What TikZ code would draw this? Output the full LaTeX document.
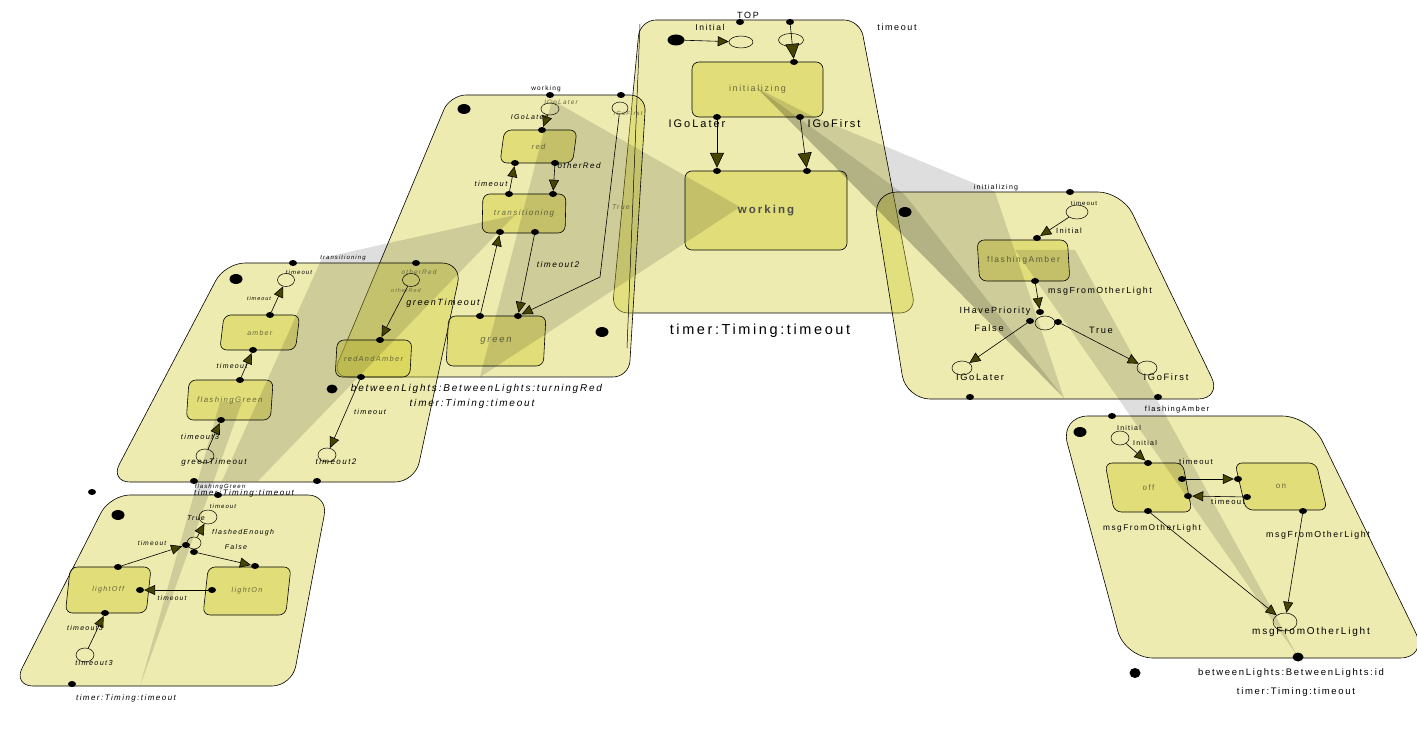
\documentclass[tikz,border=0pt]{standalone}
\usepackage{fontspec}
\setmainfont{Liberation Sans}[LetterSpace=18]
\usetikzlibrary{arrows.meta,shapes.geometric}
\definecolor{panelc}{RGB}{210,205,55}
\definecolor{arrowc}{RGB}{70,70,0}
\definecolor{statec}{RGB}{105,105,60}
\tikzset{
  panel/.style={fill=panelc,fill opacity=.4,draw=black,line width=.6pt,rounded corners=16pt},
  wedge/.style={fill=black,fill opacity=.13},
  stbox/.style={draw,line width=.6pt,fill=panelc,fill opacity=.45,text opacity=1,text=statec,rounded corners=7pt,inner sep=0pt},
  lean/.style 2 args={stbox,shape=trapezium,trapezium stretches=true,trapezium left angle=#1,trapezium right angle=#2},
  port/.style={ellipse,fill=black,inner sep=0pt,minimum width=8pt,minimum height=6pt},
  bigdot/.style={ellipse,fill=black,inner sep=0pt,minimum width=13pt,minimum height=10pt},
  ps/.style={ellipse,draw,line width=.5pt,inner sep=0pt,minimum width=18pt,minimum height=13pt},
  arr/.style={line width=.6pt,-{Triangle[length=11pt,width=10pt,fill=arrowc]}},
  bigarr/.style={line width=.6pt,-{Triangle[length=15pt,width=14pt,fill=arrowc]}},
  ft/.style={inner sep=0pt,font=\fontsize{#1}{#1}\selectfont},
  fti/.style={inner sep=0pt,font=\fontsize{#1}{#1}\selectfont\itshape}
}
\begin{document}
\begin{tikzpicture}[x=1pt,y=-1pt]
\useasboundingbox (0,0) rectangle (1417,743);
\path[panel] (640,20) -- (860,20) -- (916,313) -- (612,313) -- cycle;
\path[panel] (450,95) -- (646,95) -- (629,377) -- (332,377) -- cycle;
\path[panel,rounded corners=20pt] (225,263) -- (462,263) -- (415,482) -- (110,482) -- cycle;
\path[panel,rounded corners=20pt] (110,495) -- (328,495) -- (292,686) -- (13,686) -- cycle;
\path[panel,rounded corners=24pt] (873,192) -- (1122,192) -- (1222,399) -- (906,399) -- cycle;
\path[panel,rounded corners=28pt] (1060,416) -- (1310,416) -- (1428,658) -- (1125,658) -- cycle;
\draw[line width=.5pt] (640,24) -- (627,348);

\node[stbox,ft=9,minimum width=131pt,minimum height=55pt] (initializing) at (757.5,89.5) {initializing};
\node[stbox,font=\fontsize{11.5}{12}\selectfont\bfseries,text=black!70,minimum width=162pt,minimum height=79pt] (working) at (766,210.5) {working};
\node[lean={81}{99},fti=7.5,minimum width=77pt,minimum height=33pt] (red) at (538.5,146.5) {red};
\node[lean={85}{95},fti=8,minimum width=84pt,minimum height=39pt] (transitioning) at (524,213.5) {transitioning};
\node[lean={83}{97},fti=9.5,minimum width=100pt,minimum height=50pt] (green) at (496,341) {green};
\node[lean={74}{106},fti=7,minimum width=80pt,minimum height=35pt] (amber) at (259.75,332.5) {amber};
\node[lean={73}{107},fti=7.8,minimum width=87pt,minimum height=40pt] (flashingGreen) at (229.75,400) {flashingGreen};
\node[lean={73}{107},fti=7.4,minimum width=77pt,minimum height=37pt] (redAndAmber) at (373.5,358.5) {redAndAmber};
\node[lean={73}{107},fti=7.2,minimum width=86pt,minimum height=46pt] (lightOff) at (108.25,590) {lightOff};
\node[lean={73}{107},fti=7.2,minimum width=88pt,minimum height=48pt] (lightOn) at (247,591) {lightOn};
\node[lean={104}{76},ft=8.5,minimum width=93pt,minimum height=41pt] (flashingAmber) at (1023.5,260.5) {flashingAmber};
\node[lean={105}{75},ft=8,minimum width=87pt,minimum height=49pt] (off) at (1148.5,487.5) {off};
\node[lean={110}{70},ft=8,minimum width=92pt,minimum height=47pt] (on) at (1281,486.5) {on};

\fill[wedge] (740,207) -- (552,100) -- (480,377) -- cycle;
\fill[wedge] (515,215) -- (322,258) -- (222,481) -- (258,481) -- cycle;
\fill[wedge] (757,88) -- (810,115) -- (995,192) -- (1064,398) -- cycle;
\fill[wedge] (757,88) -- (905,195) -- (1064,398) -- cycle;
\fill[wedge] (1015,250) -- (1075,250) -- (1298,657) -- cycle;
\fill[wedge] (220,402) -- (242,402) -- (140,686) -- cycle;

\node[port] (tp1) at (740,22) {};
\node[port] (tp2) at (790,22) {};
\node[bigdot,minimum width=17pt,minimum height=11pt] (tpi) at (676,40) {};
\node[ps,minimum width=24pt,minimum height=12pt] (tpc1) at (741,42) {};
\node[ps,minimum width=25pt,minimum height=13pt] (tpc2) at (791,40) {};
\node[port] (int) at (794,62) {};
\node[port] (inb1) at (717,117) {};
\node[port] (inb2) at (800,117) {};
\node[port] (wkt1) at (717,171) {};
\node[port] (wkt2) at (807,171) {};
\draw[arr] (tpi) -- (tpc1);
\draw[bigarr] (tp2) -- (int);
\draw[bigarr] (inb1) -- (wkt1);
\draw[bigarr] (inb2) -- (wkt2);
\node[ft=9] (lTOP) at (748,15) {TOP};
\node[ft=8.5] (lIni) at (710,27) {Initial};
\node[ft=9] (lTo) at (897,27) {timeout};
\node[ft=11] (lGL) at (697,124) {IGoLater};
\node[ft=11] (lGF) at (834,124) {IGoFirst};
\node[ft=14.5] (lTT) at (760,331) {timer:Timing:timeout};

\node[port] (wk1) at (550,95) {};
\node[port] (wk2) at (621,95) {};
\node[bigdot] (wkd1) at (464,109) {};
\node[ps,minimum width=18pt,minimum height=12pt] (wgl) at (550,109) {};
\node[ps,minimum width=16pt,minimum height=12pt] (wgf) at (620,108) {};
\node[port] (rdt) at (542,130) {};
\node[port] (rdb1) at (515,163) {};
\node[port] (rdb2) at (555,163) {};
\node[port] (trt1) at (509,194) {};
\node[port] (trt2) at (553,194) {};
\node[port] (trb1) at (500,232) {};
\node[port] (trb2) at (535,232) {};
\node[port] (grt1) at (480,316) {};
\node[port] (grt2) at (518,316) {};
\node[bigdot] (wkd2) at (602,332) {};
\node[bigdot,minimum width=11pt,minimum height=9pt] (wkd3) at (332,389) {};
\coordinate (tbend) at (600,277);
\draw[arr] (wgl) -- (rdt);
\draw[arr] (trt1) -- (rdb1);
\draw[arr] (rdb2) -- (trt2);
\draw[arr] (grt1) -- (trb1);
\draw[arr] (trb2) -- (grt2);
\draw[arr] (wgf) -- (tbend) -- (grt2);
\node[ft=6.5] (lwk) at (546,89) {working};
\node[fti=6.5,text=statec] (lwgl) at (561,102) {IGoLater};
\node[fti=6,text=statec] (lwgf) at (628,113) {IGoFirst};
\node[fti=7] (lwgl2) at (529,117) {IGoLater};
\node[fti=8] (lor) at (579,166) {otherRed};
\node[fti=7.5] (ltm) at (491,184) {timeout};
\node[fti=8.3] (ltm2) at (558,265) {timeout2};
\node[fti=7,text=statec] (ltrue) at (621,207) {True};
\node[fti=9] (lgt) at (443,303) {greenTimeout};
\node[fti=10] (lbl) at (476.5,389) {betweenLights:BetweenLights:turningRed};
\node[fti=10] (ltt) at (472,404) {timer:Timing:timeout};

\node[port] (trp1) at (293,263) {};
\node[port] (trp2) at (416,263) {};
\node[bigdot] (trd1) at (236,279) {};
\node[ps,minimum width=17pt,minimum height=13pt] (tto) at (286,280) {};
\node[port] (amt) at (270,315) {};
\node[port] (amb) at (253,350) {};
\node[port] (fgt) at (240,380) {};
\node[port] (fgb) at (221,420) {};
\node[ps,minimum width=18pt,minimum height=14pt] (tgt) at (205,456) {};
\node[port] (trp3) at (194,481) {};
\node[port] (trp4) at (317,481) {};
\node[ps,minimum width=17pt,minimum height=13pt] (tor) at (411,280) {};
\node[port] (rat) at (380,340) {};
\node[port] (rab) at (361,377) {};
\node[ps,minimum width=18pt,minimum height=14pt] (tt2) at (327,455) {};
\draw[arr] (amt) -- (tto);
\draw[arr] (fgt) -- (amb);
\draw[arr] (tgt) -- (fgb);
\draw[arr] (tor) -- (rat);
\draw[arr] (rab) -- (tt2);
\node[fti=6] (ltr) at (343,258) {transitioning};
\node[fti=6] (lto) at (299,272) {timeout};
\node[fti=5.5] (lto2) at (259,299) {timeout};
\node[fti=7] (lto3) at (232,366) {timeout};
\node[fti=7.5] (lt3) at (200,437) {timeout3};
\node[fti=8] (lgT) at (214,462) {greenTimeout};
\node[fti=6.5,text=statec] (lor2) at (419,272) {otherRed};
\node[fti=5.5,text=statec] (lor3) at (406,291) {otherRed};
\node[fti=7.3] (lto4) at (370,412) {timeout};
\node[fti=8] (lt2) at (336,462) {timeout2};
\node[fti=6] (lfg) at (220,487) {flashingGreen};
\node[fti=8] (lttl) at (244,493) {timer:Timing:timeout};

\node[port] (fgp1) at (218,495) {};
\node[port] (fgp2) at (92,492) {};
\node[bigdot] (fgd1) at (118,515) {};
\node[ps,minimum width=18pt,minimum height=14pt] (fto) at (208,517) {};
\node[ps,minimum width=14pt,minimum height=12pt] (ffe) at (194,543) {};
\node[port] (fe1) at (186,545) {};
\node[port] (fe2) at (194,552) {};
\node[port] (lft) at (118,567) {};
\node[port] (lnt) at (255,566) {};
\node[port] (lnl) at (212,590) {};
\node[port] (lfr) at (140,590) {};
\node[port] (lfb) at (105,613) {};
\node[ps,minimum width=18pt,minimum height=14pt] (ft3) at (85,655) {};
\node[port] (fgp3) at (72,684) {};
\draw[arr] (ffe) -- (fto);
\draw[arr] (lft) -- (fe1);
\draw[arr] (fe2) -- (lnt);
\draw[arr] (lnl) -- (lfr);
\draw[arr] (ft3) -- (lfb);
\node[fti=6] (lto5) at (223,506) {timeout};
\node[fti=7] (lTrue) at (196,518) {True};
\node[fti=7] (lfe) at (243,533) {flashedEnough};
\node[fti=7] (lfa) at (236,547) {False};
\node[fti=6.5] (lto6) at (152,543) {timeout};
\node[fti=6.6] (lto7) at (172,598) {timeout};
\node[fti=7] (lt3b) at (85,628) {timeout3};
\node[fti=7.3] (lt3c) at (94,663) {timeout3};
\node[fti=8] (lttb) at (126,698) {timer:Timing:timeout};

\node[port] (inp1) at (1070,192) {};
\node[bigdot] (ind1) at (905,212) {};
\node[ps,minimum width=22pt,minimum height=14pt] (ito) at (1077,212) {};
\node[port] (fat) at (1037,238) {};
\node[port] (fab) at (1035,281) {};
\node[port] (cht) at (1040,312) {};
\node[ps,minimum width=20pt,minimum height=14pt] (ihp) at (1045,323) {};
\node[port] (chl) at (1030,321) {};
\node[port] (chr) at (1058,322) {};
\node[ps,minimum width=20pt,minimum height=14pt] (igl) at (962,368) {};
\node[ps,minimum width=20pt,minimum height=14pt] (igf) at (1147,368) {};
\node[port] (inp2) at (970,397) {};
\node[port] (inp3) at (1158,397) {};
\draw[arr] (ito) -- (fat);
\draw[arr] (fab) -- (cht);
\draw[arr] (chl) -- (igl);
\draw[arr] (chr) -- (igf);
\node[ft=7] (linit) at (996,188) {initializing};
\node[ft=6] (lto8) at (1084,203) {timeout};
\node[ft=7.5] (lini) at (1069,231) {Initial};
\node[ft=8.8] (lmsg) at (1100,291) {msgFromOtherLight};
\node[ft=9] (lihp) at (995,311) {IHavePriority};
\node[ft=9.3] (lfal) at (989,328) {False};
\node[ft=9.3] (ltru) at (1101,330) {True};
\node[ft=9.3] (lgl3) at (980,377) {IGoLater};
\node[ft=9.3] (lgf3) at (1166,377) {IGoFirst};
\node[ft=7.5] (lfa2) at (1177,410) {flashingAmber};

\node[port] (fap1) at (1112,416) {};
\node[bigdot] (fad1) at (1080,432) {};
\node[ps,minimum width=18pt,minimum height=14pt] (fin) at (1120,438) {};
\node[port] (oft) at (1148,463) {};
\node[port] (ofr1) at (1182,479) {};
\node[port] (onl1) at (1238,479) {};
\node[port] (onl2) at (1247,497) {};
\node[port] (ofr2) at (1188,496) {};
\node[port] (ofb) at (1148,511) {};
\node[port] (onb) at (1303,511) {};
\node[ps,minimum width=24pt,minimum height=18pt] (fms) at (1285,622) {};
\node[bigdot,minimum width=11pt,minimum height=9pt] (fap2) at (1298,657) {};
\node[bigdot,minimum width=11pt,minimum height=10pt] (fad2) at (1135,673) {};
\draw[arr] (fin) -- (oft);
\draw[arr] (ofr1) -- (onl1);
\draw[arr] (onl2) -- (ofr2);
\draw[arr] (ofb) -- (fms);
\draw[arr] (onb) -- (fms);
\node[ft=7] (lIn1) at (1129,428) {Initial};
\node[ft=7] (lIn2) at (1145,443) {Initial};
\node[ft=7.7] (ltoa) at (1196,462) {timeout};
\node[ft=7.7] (ltob) at (1228,502) {timeout};
\node[ft=8.3] (lmsa) at (1152,528) {msgFromOtherLight};
\node[ft=8.8] (lmsb) at (1318,535) {msgFromOtherLight};
\node[ft=10] (lmsc) at (1311,632) {msgFromOtherLight};
\node[ft=9.5] (lbid) at (1291,673) {betweenLights:BetweenLights:id};
\node[ft=9.5] (ltid) at (1296,692) {timer:Timing:timeout};
\end{tikzpicture}
\end{document}
